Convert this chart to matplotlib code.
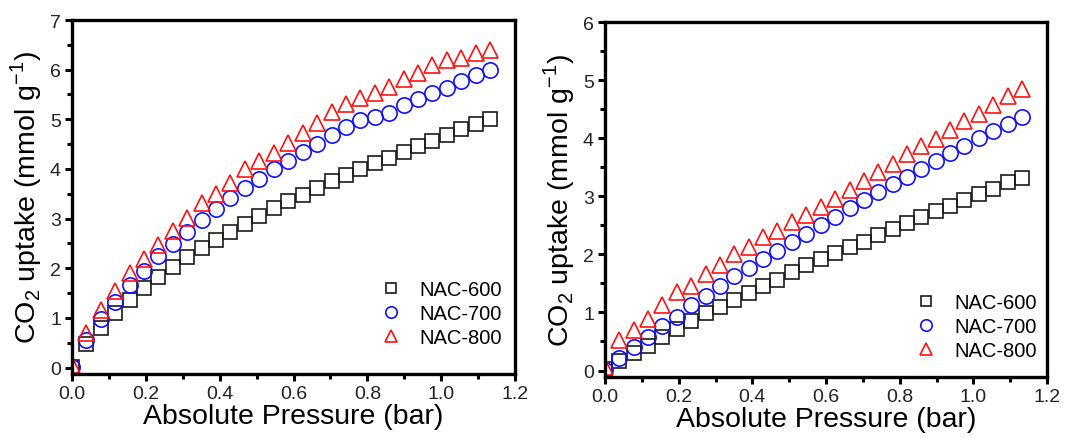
import numpy as np
import matplotlib
matplotlib.use('agg')
import matplotlib.pyplot as plt
from matplotlib.ticker import MultipleLocator

plt.rcParams['font.family'] = ['Liberation Sans', 'DejaVu Sans']
plt.rcParams['mathtext.fontset'] = 'custom'
plt.rcParams['mathtext.rm'] = 'Liberation Sans'

# absolute pressure (bar)
pressure = [0.0, 0.039, 0.078, 0.117, 0.156, 0.195, 0.234, 0.273, 0.312, 0.351,
            0.390, 0.429, 0.468, 0.507, 0.546, 0.586, 0.625, 0.664, 0.703, 0.742,
            0.781, 0.820, 0.859, 0.898, 0.937, 0.976, 1.015, 1.054, 1.094, 1.133]

# left panel
left_600 = [0.02, 0.47, 0.80, 1.10, 1.37, 1.60, 1.82, 2.03, 2.22, 2.41,
            2.57, 2.73, 2.89, 3.05, 3.21, 3.35, 3.47, 3.62, 3.75, 3.87,
            4.00, 4.12, 4.23, 4.35, 4.47, 4.57, 4.69, 4.80, 4.90, 5.01]
left_700 = [0.02, 0.55, 0.97, 1.33, 1.67, 1.95, 2.24, 2.49, 2.73, 2.97,
            3.20, 3.41, 3.61, 3.80, 3.99, 4.17, 4.34, 4.51, 4.69, 4.85,
            4.99, 5.05, 5.13, 5.29, 5.41, 5.52, 5.63, 5.77, 5.90, 6.00]
left_800 = [0.05, 0.69, 1.15, 1.55, 1.90, 2.19, 2.47, 2.75, 3.02, 3.32,
            3.49, 3.72, 3.99, 4.17, 4.32, 4.52, 4.73, 4.93, 5.15, 5.30,
            5.43, 5.53, 5.65, 5.82, 5.94, 6.10, 6.20, 6.23, 6.33, 6.39]

# right panel
right_600 = [0.02, 0.17, 0.30, 0.43, 0.57, 0.72, 0.85, 0.99, 1.10, 1.22,
             1.34, 1.46, 1.56, 1.69, 1.81, 1.92, 2.02, 2.12, 2.22, 2.33,
             2.44, 2.54, 2.65, 2.75, 2.84, 2.94, 3.04, 3.13, 3.24, 3.32]
right_700 = [0.01, 0.22, 0.41, 0.58, 0.76, 0.93, 1.12, 1.29, 1.46, 1.62,
             1.77, 1.92, 2.06, 2.21, 2.35, 2.51, 2.65, 2.79, 2.93, 3.07,
             3.21, 3.34, 3.47, 3.60, 3.74, 3.87, 4.00, 4.13, 4.25, 4.37]
right_800 = [0.06, 0.52, 0.69, 0.89, 1.12, 1.35, 1.46, 1.66, 1.82, 2.01,
             2.12, 2.30, 2.41, 2.56, 2.68, 2.82, 2.96, 3.11, 3.27, 3.42,
             3.56, 3.72, 3.87, 3.99, 4.14, 4.30, 4.42, 4.57, 4.72, 4.85]

labels = ['NAC-600', 'NAC-700', 'NAC-800']
styles = [('s', '#1a1a1a', 9.5), ('o', '#1010ff', 11), ('^', '#ff1010', 11.5)]


def panel(ax, series, ymax, leg_anchor):
    for vals, lab, (m, c, ms) in zip(series, labels, styles):
        ax.plot(pressure, vals, ls='none', marker=m, ms=ms, mfc='none',
                mec=c, mew=1.2, label=lab)
    ax.set_xlim(0, 1.2)
    ax.set_ylim(-0.13 * ymax / 7, ymax)
    ax.xaxis.set_major_locator(MultipleLocator(0.2))
    ax.xaxis.set_minor_locator(MultipleLocator(0.1))
    ax.yaxis.set_major_locator(MultipleLocator(1))
    ax.yaxis.set_minor_locator(MultipleLocator(0.5))
    ax.xaxis.set_major_formatter(matplotlib.ticker.FormatStrFormatter('%.1f'))
    for s in ax.spines.values():
        s.set_linewidth(2.4)
    ax.tick_params(which='major', direction='out', length=5, width=2.2,
                   labelsize=14, colors='black', labelcolor='#222222', pad=3)
    ax.tick_params(which='minor', direction='out', length=3.5, width=2.2)
    ax.tick_params(top=False, right=False, which='both')
    ax.set_xlabel('Absolute Pressure (bar)', fontsize=20.5, labelpad=1)
    ax.set_ylabel('CO$_2$ uptake (mmol g$^{-1}$)', fontsize=20.5, labelpad=4)
    ax.legend(loc='lower right', frameon=False, fontsize=14.5,
              bbox_to_anchor=leg_anchor, handlelength=1.2, handletextpad=0.8,
              labelspacing=0.25, borderaxespad=0, borderpad=0, markerscale=0.75)


fig = plt.figure(figsize=(10.65, 4.39), dpi=100)
ax1 = fig.add_axes([72 / 1065, 1 - 375 / 439, 443 / 1065, 354 / 439])
ax2 = fig.add_axes([605 / 1065, 1 - 378 / 439, 442 / 1065, 355 / 439])

panel(ax1, [left_600, left_700, left_800], 7, (0.971, 0.076))
panel(ax2, [right_600, right_700, right_800], 6, (0.977, 0.048))

fig.savefig('out.png', dpi=100)
